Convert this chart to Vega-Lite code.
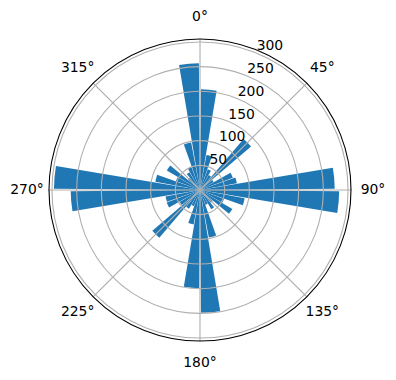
{
  "$schema": "https://vega.github.io/schema/vega-lite/v6.json",
  "width": 396,
  "height": 380,
  "autosize": {"type": "none"},
  "padding": {"left": 2, "top": 0, "right": 0, "bottom": 0},
  "config": {"view": {"stroke": null}, "text": {"font": "DejaVu Sans", "fontSize": 13.9, "color": "#000000"}},
  "datasets": {
    "bins": [
      {"from": 0, "to": 10, "count": 204},
      {"from": 10, "to": 20, "count": 72},
      {"from": 20, "to": 30, "count": 45},
      {"from": 30, "to": 40, "count": 35},
      {"from": 40, "to": 50, "count": 136},
      {"from": 50, "to": 60, "count": 32},
      {"from": 60, "to": 70, "count": 71},
      {"from": 70, "to": 80, "count": 76},
      {"from": 80, "to": 90, "count": 273},
      {"from": 90, "to": 100, "count": 282},
      {"from": 100, "to": 110, "count": 92},
      {"from": 110, "to": 120, "count": 52},
      {"from": 120, "to": 130, "count": 76},
      {"from": 130, "to": 140, "count": 34},
      {"from": 140, "to": 150, "count": 45},
      {"from": 150, "to": 160, "count": 32},
      {"from": 160, "to": 170, "count": 98},
      {"from": 170, "to": 180, "count": 249},
      {"from": 180, "to": 190, "count": 199},
      {"from": 190, "to": 200, "count": 71},
      {"from": 200, "to": 210, "count": 35},
      {"from": 210, "to": 220, "count": 44},
      {"from": 220, "to": 230, "count": 127},
      {"from": 230, "to": 240, "count": 48},
      {"from": 240, "to": 250, "count": 72},
      {"from": 250, "to": 260, "count": 71},
      {"from": 260, "to": 270, "count": 262},
      {"from": 270, "to": 280, "count": 296},
      {"from": 280, "to": 290, "count": 92},
      {"from": 290, "to": 300, "count": 52},
      {"from": 300, "to": 310, "count": 78},
      {"from": 310, "to": 320, "count": 32},
      {"from": 320, "to": 330, "count": 42},
      {"from": 330, "to": 340, "count": 50},
      {"from": 340, "to": 350, "count": 98},
      {"from": 350, "to": 360, "count": 257}
    ],
    "rings": [
      {"r": 50, "label": "50"},
      {"r": 100, "label": "100"},
      {"r": 150, "label": "150"},
      {"r": 200, "label": "200"},
      {"r": 250, "label": "250"},
      {"r": 300, "label": "300"}
    ],
    "spokes": [
      {"a": 0, "label": "0°"},
      {"a": 45, "label": "45°"},
      {"a": 90, "label": "90°"},
      {"a": 135, "label": "135°"},
      {"a": 180, "label": "180°"},
      {"a": 225, "label": "225°"},
      {"a": 270, "label": "270°"},
      {"a": 315, "label": "315°"}
    ]
  },
  "layer": [
    {
      "data": {"name": "bins"},
      "mark": {"type": "arc", "color": "#1f77b4", "padAngle": 0.0175},
      "encoding": {
        "theta": {"field": "from", "type": "quantitative", "stack": null, "scale": {"domain": [0, 360], "range": [0, 6.283185307179586]}},
        "theta2": {"field": "to"},
        "radius": {"field": "count", "type": "quantitative", "stack": null, "scale": {"type": "linear", "zero": true, "domain": [0, 306], "range": [0, 151]}}
      }
    },
    {
      "data": {"name": "rings"},
      "mark": {"type": "arc", "filled": false, "stroke": "#b0b0b0", "strokeWidth": 1.1},
      "encoding": {
        "theta": {"datum": 0, "type": "quantitative", "stack": null},
        "theta2": {"datum": 360},
        "radius": {"field": "r", "type": "quantitative", "stack": null}
      }
    },
    {
      "data": {"name": "spokes"},
      "mark": {"type": "arc", "filled": false, "stroke": "#b0b0b0", "strokeWidth": 1.1, "theta2Offset": 0.0002},
      "encoding": {
        "theta": {"field": "a", "type": "quantitative", "stack": null},
        "theta2": {"field": "a"},
        "radius": {"datum": 306, "type": "quantitative", "stack": null}
      }
    },
    {
      "data": {"values": [{"edge": 306}]},
      "mark": {"type": "arc", "filled": false, "stroke": "#000000", "strokeWidth": 1.1},
      "encoding": {
        "theta": {"datum": 0, "type": "quantitative", "stack": null},
        "theta2": {"datum": 360},
        "radius": {"field": "edge", "type": "quantitative", "stack": null}
      }
    },
    {
      "data": {"name": "rings"},
      "mark": {"type": "text", "align": "left", "baseline": "bottom"},
      "encoding": {
        "theta": {"datum": 22.5, "type": "quantitative", "stack": null},
        "radius": {"field": "r", "type": "quantitative", "stack": null},
        "text": {"field": "label"}
      }
    },
    {
      "data": {"name": "spokes"},
      "mark": {"type": "text", "align": "center", "baseline": "middle"},
      "encoding": {
        "theta": {"field": "a", "type": "quantitative", "stack": null},
        "radius": {"value": 173},
        "text": {"field": "label"}
      }
    }
  ]
}
